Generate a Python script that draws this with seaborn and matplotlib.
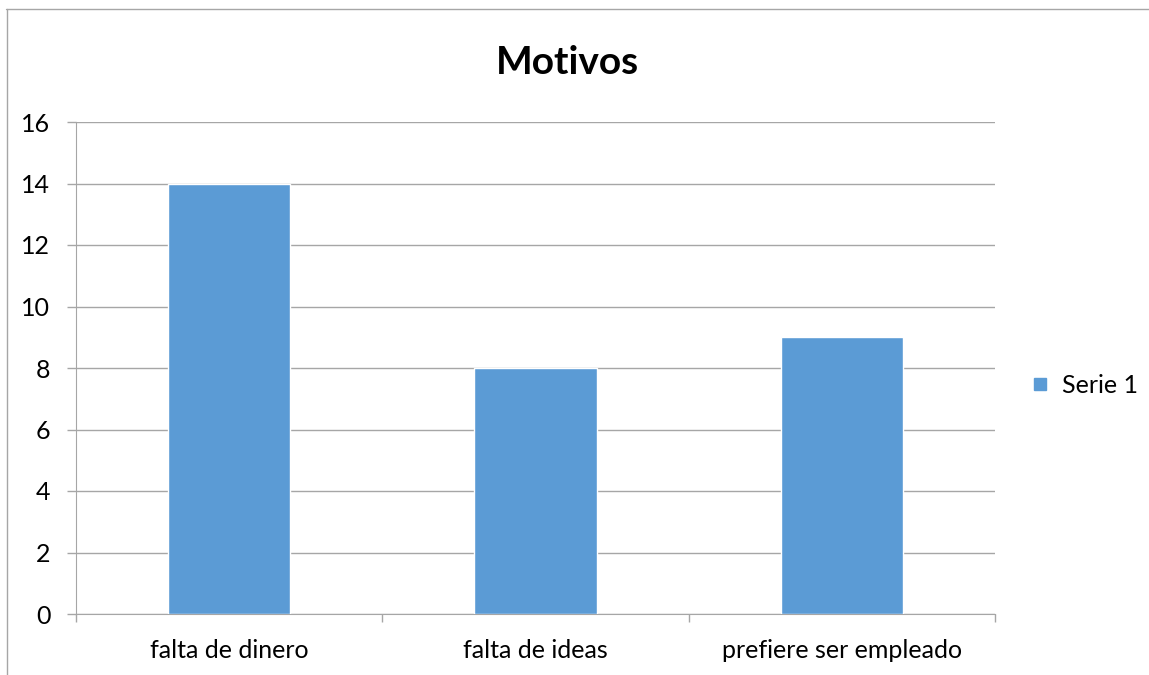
import matplotlib.pyplot as plt
import seaborn as sns
import pandas as pd
from matplotlib.lines import Line2D

# === Данные ===
categories = ["falta de dinero", "falta de ideas", "prefiere ser empleado"]
values = [14, 8, 9]
series_name = "Serie 1"

BAR_COLOR = "#5B9BD5"
GRID_COLOR = "#A6A6A6"

sns.set_style("white")
plt.rcParams.update({
    'font.family': ['Lato', 'DejaVu Sans'],
    'font.size': 18,
    'figure.dpi': 100,
    'text.color': 'black',
    'xtick.color': GRID_COLOR,
    'ytick.color': GRID_COLOR,
    'xtick.labelcolor': 'black',
    'ytick.labelcolor': 'black',
    'xtick.bottom': True,
    'ytick.left': True,
})

df = pd.DataFrame({'motivo': categories, 'cantidad': values})

fig = plt.figure(figsize=(11.49, 6.75), dpi=100)
ax = fig.add_axes([76 / 1149, 1 - 614 / 675, (995 - 76) / 1149, (614 - 122) / 675])

sns.barplot(data=df, x='motivo', y='cantidad', color=BAR_COLOR, width=0.4,
            saturation=1, ax=ax, zorder=3)

ax.set_ylim(0, 16)
ax.set_yticks(range(0, 17, 2))
ax.set_xlim(-0.5, len(categories) - 0.5)
ax.yaxis.grid(True, color=GRID_COLOR, linewidth=1, zorder=0)
ax.set_axisbelow(True)
for side in ['top', 'right']:
    ax.spines[side].set_visible(False)
ax.spines['left'].set_color(GRID_COLOR)
ax.spines['bottom'].set_color(GRID_COLOR)

# Ticks en los límites de categoría (como en Excel)
ax.set_xticks([i - 0.5 for i in range(len(categories) + 1)], minor=False)
ax.set_xticklabels([''] * (len(categories) + 1))
ax.set_xticks(range(len(categories)), minor=True)
ax.set_xticklabels(categories, minor=True)
ax.tick_params(axis='x', which='major', bottom=True, length=6, width=1,
               color=GRID_COLOR, direction='out')
ax.tick_params(axis='x', which='minor', bottom=True, length=0, pad=18, labelsize=18)
ax.tick_params(axis='y', left=True, length=6.5, width=1, color=GRID_COLOR,
               direction='out', labelsize=18, pad=12)
ax.set_xlabel("")
ax.set_ylabel("")

fig.text(567 / 1149, 1 - 62 / 675, "Motivos", ha='center', va='center',
         fontsize=28, fontweight='bold', color='black')

handle = Line2D([], [], marker='s', linestyle='', markersize=9,
                markerfacecolor=BAR_COLOR, markeredgecolor=BAR_COLOR)
fig.legend([handle], [series_name], loc='center left',
           bbox_to_anchor=(1002 / 1149, 1 - 385 / 675), frameon=False,
           handletextpad=0.3, fontsize=18, handlelength=1.2)

# Marco del gráfico (solo arriba e izquierda visibles)
fig.add_artist(Line2D([6 / 1149, 1], [1 - 9 / 675, 1 - 9 / 675],
                      transform=fig.transFigure, color=GRID_COLOR, linewidth=1))
fig.add_artist(Line2D([7 / 1149, 7 / 1149], [0, 1 - 9 / 675],
                      transform=fig.transFigure, color=GRID_COLOR, linewidth=1))

plt.savefig("out.png", dpi=100)
plt.close()
